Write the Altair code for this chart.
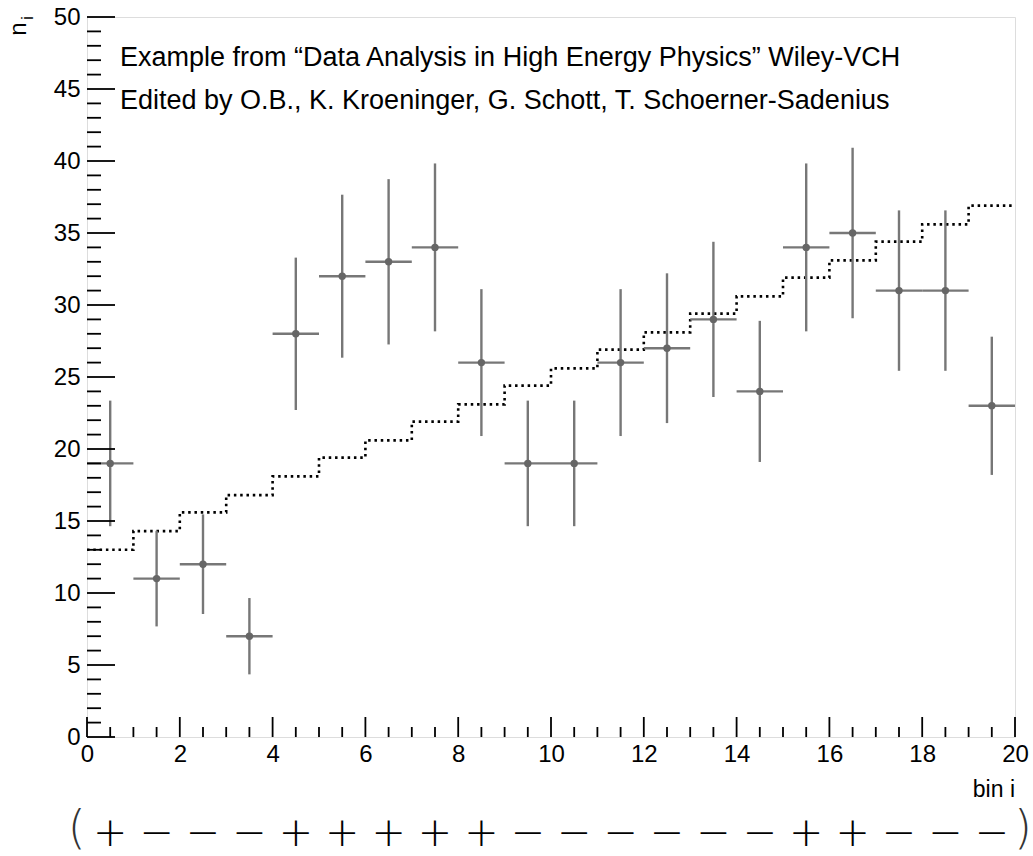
import altair as alt
import pandas as pd
import numpy as np

# ---- data ----
bin_low = list(range(20))
observed = [19, 11, 12, 7, 28, 32, 33, 34, 26, 19, 19, 26, 27, 29, 24, 34, 35, 31, 31, 23]
errors = [4.36, 3.32, 3.46, 2.65, 5.29, 5.66, 5.74, 5.83, 5.10, 4.36,
          4.36, 5.10, 5.20, 5.39, 4.90, 5.83, 5.92, 5.57, 5.57, 4.80]
expected = [13.0, 14.3, 15.6, 16.8, 18.1, 19.4, 20.6, 21.9, 23.1, 24.4,
            25.6, 26.9, 28.1, 29.4, 30.6, 31.9, 33.1, 34.4, 35.6, 36.9]
signs = ["+", "−", "−", "−", "+", "+", "+", "+", "+", "−",
         "−", "−", "−", "−", "−", "+", "+", "−", "−", "−"]
x_major = [0, 2, 4, 6, 8, 10, 12, 14, 16, 18, 20]
y_major = [0, 5, 10, 15, 20, 25, 30, 35, 40, 45, 50]
note_line1 = "Example from “Data Analysis in High Energy Physics”  Wiley-VCH"
note_line2 = "Edited by O.B., K. Kroeninger, G. Schott, T. Schoerner-Sadenius"

W, H = 928, 720
FONT = "Liberation Sans"

df = pd.DataFrame({
    "lo": bin_low,
    "hi": [b + 1 for b in bin_low],
    "mid": [b + 0.5 for b in bin_low],
    "n": observed,
    "nlo": [o - e for o, e in zip(observed, errors)],
    "nhi": [o + e for o, e in zip(observed, errors)],
    "sign": signs,
})
step_df = pd.DataFrame({"x": bin_low + [20], "y": expected + [expected[-1]]})

xs = alt.Scale(domain=[0, 20], nice=False, zero=False)
ys = alt.Scale(domain=[0, 50], nice=False, zero=False)

ax_common = dict(ticks=False, tickSize=0, domain=False, grid=False, labelFont=FONT,
                 labelFontSize=24, labelColor="black", title=None,
                 labelFlush=False, labelOverlap=False)
x_axis = alt.Axis(values=x_major, labelPadding=5, **ax_common)
y_axis = alt.Axis(values=y_major, labelPadding=7, **ax_common)


def X(f):
    return alt.X(f, type="quantitative", scale=xs, axis=x_axis, title=None)


def Y(f):
    return alt.Y(f, type="quantitative", scale=ys, axis=y_axis, title=None)


# inward ticks
ymaj_df = pd.DataFrame({"v": y_major})
ymin_df = pd.DataFrame({"v": [v for v in range(51) if v % 5 != 0]})
xmaj_df = pd.DataFrame({"v": x_major})
xmin_df = pd.DataFrame({"v": [v / 2 for v in range(41) if v % 4 != 0]})

tick_style = dict(color="black", strokeWidth=1.8)
yt_major = alt.Chart(ymaj_df).mark_rule(**tick_style).encode(
    y=Y("v"), x=alt.value(0), x2=alt.value(28))
yt_minor = alt.Chart(ymin_df).mark_rule(**tick_style).encode(
    y=Y("v"), x=alt.value(0), x2=alt.value(14))
xt_major = alt.Chart(xmaj_df).mark_rule(**tick_style).encode(
    x=X("v"), y=alt.value(H), y2=alt.value(H - 20))
xt_minor = alt.Chart(xmin_df).mark_rule(**tick_style).encode(
    x=X("v"), y=alt.value(H), y2=alt.value(H - 10))

# expected step line
step = alt.Chart(step_df).mark_line(
    interpolate="step-after", color="black", strokeWidth=2.6, strokeDash=[2.5, 3.8]
).encode(x=X("x"), y=Y("y"))

gray = "#777777"
hbar = alt.Chart(df).mark_rule(color=gray, strokeWidth=2.4).encode(
    x=X("lo"), x2="hi", y=Y("n"))
vbar = alt.Chart(df).mark_rule(color=gray, strokeWidth=2.4).encode(
    x=X("mid"), y=Y("nlo"), y2="nhi")
dots = alt.Chart(df).mark_point(filled=True, color="#666666", size=55, opacity=1,
                                shape="circle").encode(x=X("mid"), y=Y("n"))


def label(text, x, y, size, align="left", angle=None, color="black", weight=None, font=FONT):
    kw = dict(font=font, fontSize=size, align=align, baseline="alphabetic", color=color)
    if angle is not None:
        kw["angle"] = angle
    if weight is not None:
        kw["fontWeight"] = weight
    return alt.Chart(pd.DataFrame({"t": [text]})).mark_text(**kw).encode(
        x=alt.value(x), y=alt.value(y), text="t:N")


notes1 = label(note_line1, 33, 49, 27)
notes2 = label(note_line2, 33, 92, 27)
xtitle = label("bin i", W, 780, 23, align="right")
ytitle_n = label("n", -61, 12, 24, align="center", angle=270)
ytitle_i = label("i", -54, 1, 16, align="center", angle=270)

# sign row
sign_marks = alt.Chart(df).mark_text(
    font="DejaVu Sans", fontSize=41, fontWeight=200, align="center", baseline="alphabetic",
    color="black"
).encode(x=X("mid"), y=alt.value(829), text="sign:N")

parens = alt.Chart(pd.DataFrame({"t": ["(", ")"], "x": [-0.22, 20.17]})).mark_text(
    font="DejaVu Sans", fontSize=46, fontWeight=200, align="center", baseline="alphabetic",
    color="#333333"
).encode(x=X("x"), y=alt.value(826), text="t:N")

chart = alt.layer(
    step, hbar, vbar, dots, yt_major, yt_minor, xt_major, xt_minor,
    notes1, notes2, xtitle, ytitle_n, ytitle_i, sign_marks, parens
).properties(
    width=W, height=H,
    autosize=alt.AutoSizeParams(type="none"),
    padding={"left": 87, "top": 17, "right": 18, "bottom": 119},
).configure_view(
    stroke="black", strokeWidth=2
).configure(background="white")

chart.save("out.html", embed_options={"renderer": "svg", "actions": False})
